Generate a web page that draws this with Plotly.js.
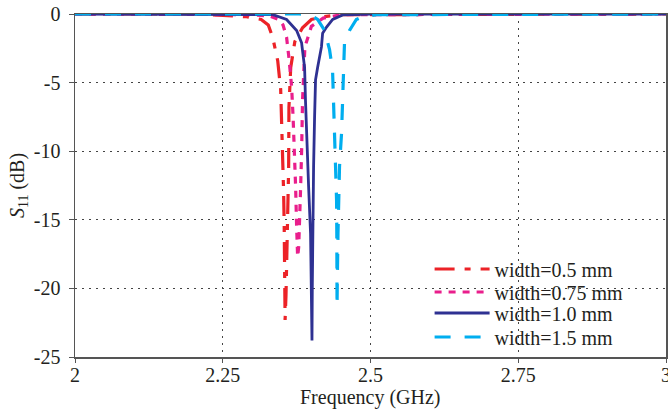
<!DOCTYPE html>
<html><head><meta charset="utf-8">
<script src="https://cdn.plot.ly/plotly-3.0.1.min.js"></script>
<style>html,body{margin:0;padding:0;background:#fff}#chart{width:668px;height:413px}</style>
</head><body><div id="chart"></div>
<script>
const seriesNames = ['width=0.5 mm','width=0.75 mm','width=1.0 mm','width=1.5 mm'];

const freq05 = [2, 2.2, 2.25, 2.29, 2.315, 2.327, 2.3345, 2.343, 2.348, 2.350, 2.3514, 2.353, 2.354, 2.3547, 2.3555, 2.357, 2.358, 2.360, 2.3615, 2.362, 2.365, 2.372, 2.385, 2.40, 2.42, 2.45, 3];
const s11_05 = [0, 0, -0.1, -0.2, -0.4, -0.8, -1.7, -3.4, -5.5, -8, -10.6, -13, -15.5, -18.4, -22.3, -20.5, -18.9, -14.8, -11.2, -6.8, -3.9, -2.0, -1.0, -0.4, -0.2, -0.05, 0];

const freq075 = [2, 2.22, 2.3, 2.33, 2.345, 2.352, 2.358, 2.362, 2.3665, 2.369, 2.3716, 2.3733, 2.375, 2.3767, 2.3785, 2.380, 2.3818, 2.3835, 2.385, 2.389, 2.40, 2.42, 2.45, 3];
const s11_075 = [0, 0, -0.05, -0.15, -0.4, -0.8, -1.7, -3.2, -5.3, -7.5, -9.9, -12.6, -15.5, -17.7, -17, -15.5, -12.6, -9.9, -6.3, -2.4, -0.9, -0.3, -0.05, 0];

const freq10 = [2, 2.30, 2.335, 2.358, 2.375, 2.3834, 2.3885, 2.390, 2.392, 2.3953, 2.3986, 2.400, 2.401, 2.4015, 2.402, 2.4037, 2.4054, 2.407, 2.4105, 2.417, 2.419, 2.4257, 2.436, 2.453, 2.5, 3];
const s11_10 = [0, 0, -0.05, -0.4, -1.2, -2.1, -3.9, -6.3, -9.2, -12.6, -16, -19.6, -23.8, -20, -16, -11.1, -7.5, -4.8, -3.9, -2.4, -1.4, -0.95, -0.4, -0.07, 0, 0];

const freq15 = [2, 2.38, 2.40, 2.4105, 2.4223, 2.4307, 2.4358, 2.4375, 2.439, 2.441, 2.4426, 2.443, 2.4434, 2.444, 2.445, 2.446, 2.4476, 2.451, 2.4527, 2.4535, 2.456, 2.4645, 2.476, 2.4865, 2.51, 3];
const s11_15 = [0, 0, -0.1, -0.4, -1.2, -2.6, -4.1, -6.3, -8.7, -11.1, -13.6, -16, -21.3, -19, -16, -13.6, -11.1, -8.7, -6.3, -4.3, -2.1, -1.2, -0.4, -0.2, -0.05, 0];

const xTickVals = [2, 2.25, 2.5, 2.75, 3];
const xTickText = ['2', '2.25', '2.5', '2.75', '3'];
const yTickVals = [0, -5, -10, -15, -20, -25];
const yTickText = ['0', '-5', '-10', '-15', '-20', '-25'];
const xTitle = 'Frequency (GHz)';
const yTitle = '<i>S</i><sub>11</sub> (dB)';

const traces = [
  {x: freq05, y: s11_05, name: seriesNames[0], mode: 'lines', legend: 'legend',
   line: {color: '#ec2227', width: 3.2, dash: '20px,10px,6px,10px'}},
  {x: freq075, y: s11_075, name: seriesNames[1], mode: 'lines', legend: 'legend2',
   line: {color: '#e91e8c', width: 3.2, dash: '7px,7px'}},
  {x: freq10, y: s11_10, name: seriesNames[2], mode: 'lines', legend: 'legend3',
   line: {color: '#2e3192', width: 2.8}},
  {x: freq15, y: s11_15, name: seriesNames[3], mode: 'lines', legend: 'legend4',
   line: {color: '#00aeef', width: 3.2, dash: '16px,14px'}}
];

const fontFam = '"Liberation Serif", "Times New Roman", serif';
const txtCol = '#231f20';
function legendAt(yc) {
  return {x: 0.6, y: yc, xanchor: 'left', yanchor: 'middle', bgcolor: 'rgba(0,0,0,0)',
          borderwidth: 0, font: {family: fontFam, size: 20, color: txtCol},
          itemwidth: 55};
}
const layout = {
  width: 668, height: 413,
  margin: {l: 75, r: 2, t: 14, b: 56},
  paper_bgcolor: '#fff', plot_bgcolor: '#fff',
  font: {family: fontFam, size: 20, color: txtCol},
  showlegend: true,
  legend: legendAt(0.2566),
  legend2: legendAt(0.1895),
  legend3: legendAt(0.1283),
  legend4: legendAt(0.0583),
  shapes: [{type: 'rect', xref: 'paper', yref: 'paper', x0: 0.602, x1: 0.998, y0: 0.01, y1: 0.30,
            fillcolor: '#fff', line: {width: 0}, layer: 'between'}],
  annotations: [{text: xTitle, xref: 'paper', yref: 'paper', x: 0.5, y: -0.1195,
                 xanchor: 'center', yanchor: 'middle', showarrow: false,
                 font: {family: fontFam, size: 20, color: txtCol}}],
  xaxis: {range: [2, 3], tickvals: xTickVals, ticktext: xTickText,
          showline: true, linecolor: '#555', linewidth: 1.5, mirror: true,
          showgrid: true, gridcolor: '#444', gridwidth: 1, griddash: '2px,5px',
          ticks: 'outside', ticklen: 4, tickcolor: '#555', zeroline: false,
          ticklabelstandoff: -5,
          ticklabeloverflow: 'allow', tickfont: {family: fontFam, size: 20, color: txtCol}},
  yaxis: {range: [-25, 0], tickvals: yTickVals, ticktext: yTickText,
          showline: true, linecolor: '#555', linewidth: 1.5, mirror: true,
          showgrid: true, gridcolor: '#444', gridwidth: 1, griddash: '2px,5px',
          ticks: 'outside', ticklen: 5, tickcolor: '#555', zeroline: false,
          ticklabelstandoff: 4, tickfont: {family: fontFam, size: 20, color: txtCol},
          title: {text: yTitle, font: {family: fontFam, size: 20, color: txtCol}, standoff: 4}}
};

Plotly.newPlot('chart', traces, layout, {staticPlot: true, displayModeBar: false});
</script>
</body></html>
